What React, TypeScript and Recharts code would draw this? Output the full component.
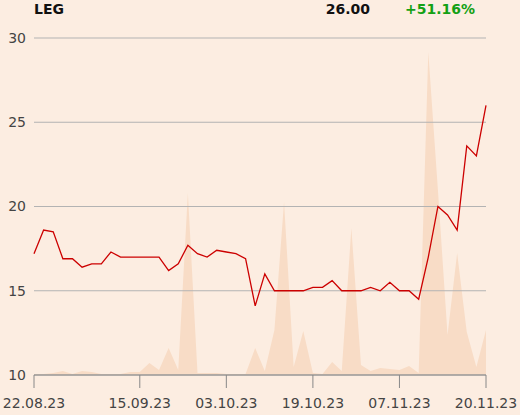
import React from 'react';
import { ComposedChart, AreaChart, Area, Line, XAxis, YAxis, CartesianGrid } from 'recharts';

const prices = [
  17.2, 18.6, 18.5, 16.9, 16.9, 16.4, 16.6, 16.6, 17.3, 17.0, 17.0, 17.0,
  17.0, 17.0, 16.2, 16.6, 17.7, 17.2, 17.0, 17.4, 17.3, 17.2, 16.9, 14.1,
  16.0, 15.0, 15.0, 15.0, 15.0, 15.2, 15.2, 15.6, 15.0, 15.0, 15.0, 15.2,
  15.0, 15.5, 15.0, 15.0, 14.5, 17.0, 20.0, 19.5, 18.6, 23.6, 23.0, 26.0,
];
const volumes = [
  1, 1, 2, 4, 1, 4, 3, 1, 1, 1, 3, 3,
  12, 5, 27, 5, 182, 2, 2, 2, 1, 1, 1, 27,
  4, 45, 173, 8, 44, 2, 1, 13, 4, 147, 10, 4,
  7, 6, 5, 9, 2, 323, 185, 40, 122, 43, 8, 45,
];
const tickIndices = [0, 11, 20, 29, 38, 47];
const tickLabels = ['22.08.23', '15.09.23', '03.10.23', '19.10.23', '07.11.23', '20.11.23'];
const yTicks = [10, 15, 20, 25, 30];

const data = prices.map((p, i) => ({ idx: i, price: p, volume: volumes[i] }));

const W = 520;
const H = 415;
const BG = '#fcede1';
const FONT = '"DejaVu Sans", sans-serif';
const tickStyle = { fill: '#444', fontSize: 14, fontFamily: FONT };

export default function App() {
  const label = (i: number) => tickLabels[tickIndices.indexOf(i)] ?? '';
  return (
    <div style={{ position: 'fixed', left: 0, top: 0, width: W, height: H, background: BG, fontFamily: FONT }}>
      {/* volume area behind */}
      <div style={{ position: 'absolute', left: 0, top: 0 }}>
        <AreaChart width={W} height={H} data={data} margin={{ top: 38, right: 34, bottom: 40, left: 34 }}>
          <XAxis dataKey="idx" type="number" domain={[0, 47]} hide />
          <YAxis domain={[0, 337]} hide />
          <Area
            dataKey="volume"
            type="linear"
            fill="#f8dcc6"
            fillOpacity={1}
            stroke="none"
            isAnimationActive={false}
          />
        </AreaChart>
      </div>
      {/* price chart on top */}
      <div style={{ position: 'absolute', left: 0, top: 0 }}>
        <ComposedChart width={W} height={H} data={data} margin={{ top: 38, right: 34, bottom: 0, left: 0 }}>
          <CartesianGrid vertical={false} stroke="#b3b3b3" />
          <XAxis
            dataKey="idx"
            type="number"
            domain={[0, 47]}
            ticks={tickIndices}
            tickFormatter={label}
            interval={0}
            height={40}
            tickSize={13}
            tickMargin={10}
            stroke="#888"
            tick={tickStyle}
          />
          <YAxis
            domain={[10, 30]}
            ticks={yTicks}
            width={34}
            axisLine={false}
            tickLine={false}
            tick={tickStyle}
          />
          <Line
            dataKey="price"
            type="linear"
            stroke="#cc0000"
            strokeWidth={1.3}
            dot={false}
            isAnimationActive={false}
          />
        </ComposedChart>
      </div>
      <div style={{ position: 'absolute', left: 34, top: 1, lineHeight: '16px', fontSize: 14, fontWeight: 700, color: '#111' }}>
        LEG
      </div>
      <div style={{ position: 'absolute', right: 150, top: 1, lineHeight: '16px', fontSize: 14, fontWeight: 700, color: '#111' }}>
        26.00
      </div>
      <div style={{ position: 'absolute', left: 405, top: 1, lineHeight: '16px', fontSize: 14, fontWeight: 700, color: '#14a014' }}>
        +51.16%
      </div>
    </div>
  );
}
